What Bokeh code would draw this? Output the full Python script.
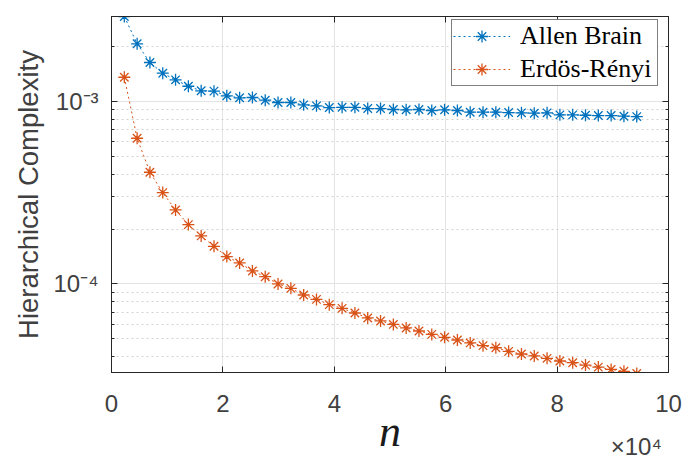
from bokeh.plotting import figure
from bokeh.models import (FixedTicker, LinearAxis, LogAxis, Legend, LegendItem,
                          CustomJSTickFormatter, Range1d)
from bokeh.embed import file_html
from bokeh.resources import INLINE

# ---- data ----
n_values = [2300, 4600, 6900, 9200, 11500, 13800, 16100, 18400, 20700, 23000,
            25300, 27600, 29900, 32200, 34500, 36800, 39100, 41400, 43700, 46000,
            48300, 50600, 52900, 55200, 57500, 59800, 62100, 64400, 66700, 69000,
            71300, 73600, 75900, 78200, 80500, 82800, 85100, 87400, 89700, 92000, 94300]

allen_brain = [2.925e-3, 2.073e-3, 1.637e-3, 1.430e-3, 1.315e-3, 1.213e-3, 1.145e-3, 1.140e-3,
               1.075e-3, 1.048e-3, 1.052e-3, 1.017e-3, 0.988e-3, 0.988e-3, 0.959e-3, 0.947e-3,
               0.927e-3, 0.930e-3, 0.930e-3, 0.915e-3, 0.915e-3, 0.904e-3, 0.901e-3, 0.904e-3,
               0.893e-3, 0.901e-3, 0.893e-3, 0.874e-3, 0.874e-3, 0.874e-3, 0.870e-3, 0.867e-3,
               0.863e-3, 0.867e-3, 0.845e-3, 0.845e-3, 0.841e-3, 0.838e-3, 0.838e-3, 0.831e-3,
               0.827e-3]

erdos_renyi = [1.359e-3, 6.29e-4, 4.095e-4, 3.168e-4, 2.545e-4, 2.115e-4, 1.834e-4, 1.608e-4,
               1.412e-4, 1.304e-4, 1.178e-4, 1.096e-4, 1.000e-4, 0.946e-4, 0.870e-4, 0.823e-4,
               0.770e-4, 0.735e-4, 0.693e-4, 0.651e-4, 0.627e-4, 0.600e-4, 0.574e-4, 0.552e-4,
               0.529e-4, 0.510e-4, 0.493e-4, 0.475e-4, 0.459e-4, 0.447e-4, 0.427e-4, 0.413e-4,
               0.403e-4, 0.391e-4, 0.378e-4, 0.370e-4, 0.359e-4, 0.350e-4, 0.340e-4, 0.332e-4,
               0.323e-4]

series_labels = ["Allen Brain", "Erdös-Rényi"]
series_colors = ["#0072BD", "#D95319"]

x_ticks = [0, 20000, 40000, 60000, 80000, 100000]
y_ticks = [1e-4, 1e-3]
y_minor = [m * 10.0 ** e for e in (-5, -4, -3) for m in range(2, 10)]

x_label = "n"
y_label = "Hierarchical Complexity"
x_multiplier = "×10⁴"
x_multiplier_at = 94200   # where the exponent note sits under the axis

# ---- styling ----
AX = "#262626"
TXT = "#404040"
SANS = "Liberation Sans"

p = figure(width=684, height=460, y_axis_type="log",
           x_range=Range1d(0, 100000), y_range=Range1d(3.27e-5, 2.925e-3),
           output_backend="svg", toolbar_location=None,
           min_border_left=111, min_border_right=16, min_border_top=16, min_border_bottom=88)

p.outline_line_color = AX
p.outline_line_width = 1
p.background_fill_color = "white"
p.border_fill_color = "white"

renderers = []
for yv, col in zip([allen_brain, erdos_renyi], series_colors):
    ln = p.line(n_values, yv, line_color=col, line_width=1, line_dash="2 3")
    sc = p.scatter(n_values, yv, marker="asterisk", size=12, line_color=col, line_width=1.3)
    renderers.append([ln, sc])

xt = FixedTicker(ticks=x_ticks)
yt = FixedTicker(ticks=y_ticks, minor_ticks=y_minor)
xt_lab = FixedTicker(ticks=x_ticks + [x_multiplier_at])

xfmt = CustomJSTickFormatter(args=dict(mt=x_multiplier_at, mtext=x_multiplier), code="""
if (Math.abs(tick - mt) < 1) { return '\\n' + mtext; }
return (tick/1e4).toFixed(0);
""")
yfmt = CustomJSTickFormatter(code="""
const sup = {'-':'\u207b','0':'\u2070','1':'\u00b9','2':'\u00b2','3':'\u00b3','4':'\u2074',
             '5':'\u2075','6':'\u2076','7':'\u2077','8':'\u2078','9':'\u2079'};
const e = Math.round(Math.log10(tick));
return '10' + String(e).split('').map(c => sup[c]).join('');
""")

def style_axis(ax, minor):
    ax.axis_line_color = AX
    ax.major_tick_line_color = AX
    ax.major_tick_in = 6
    ax.major_tick_out = 0
    if minor:
        ax.minor_tick_line_color = AX
        ax.minor_tick_in = 3
        ax.minor_tick_out = 0
    else:
        ax.minor_tick_line_color = None
    ax.major_label_text_font = SANS
    ax.major_label_text_font_size = "24px"
    ax.major_label_text_color = TXT

def hide_labels(ax):
    ax.major_label_text_font_size = "1px"
    ax.major_label_text_color = None
    ax.major_label_standoff = 0

# bottom axis nearest the frame: tick marks only
xa = p.xaxis[0]
xa.ticker = xt
style_axis(xa, False)
hide_labels(xa)

# second bottom axis: tick labels, exponent note and axis label
xl = LinearAxis(ticker=xt_lab, formatter=xfmt)
style_axis(xl, False)
xl.axis_line_color = None
xl.major_tick_line_color = None
xl.major_label_standoff = 17
xl.major_label_text_line_height = 1.6
xl.axis_label = x_label
xl.axis_label_text_font = "Liberation Serif"
xl.axis_label_text_font_style = "italic"
xl.axis_label_text_font_size = "44px"
xl.axis_label_text_color = "#1a1a1a"
xl.axis_label_standoff = -56
p.add_layout(xl, "below")

ya = p.yaxis[0]
ya.ticker = yt
ya.formatter = yfmt
style_axis(ya, True)
ya.major_label_standoff = 13
ya.axis_label = y_label
ya.axis_label_text_font = SANS
ya.axis_label_text_font_style = "normal"
ya.axis_label_text_font_size = "27.5px"
ya.axis_label_text_color = TXT
ya.axis_label_standoff = 6

top = LinearAxis(ticker=xt)
style_axis(top, False)
hide_labels(top)
p.add_layout(top, "above")

right = LogAxis(ticker=yt)
style_axis(right, True)
hide_labels(right)
p.add_layout(right, "right")

p.xgrid.ticker = xt
p.xgrid.grid_line_color = "#e3e3e3"
p.ygrid.ticker = yt
p.ygrid.grid_line_color = "#e3e3e3"
p.ygrid.minor_grid_line_color = "#d2d2d2"
p.ygrid.minor_grid_line_dash = "2 3"

legend = Legend(items=[LegendItem(label=lab, renderers=r) for lab, r in zip(series_labels, renderers)],
                location=(340, 286))
legend.label_text_font = "Liberation Serif"
legend.label_text_font_size = "26px"
legend.label_text_color = "black"
legend.glyph_width = 57
legend.glyph_height = 30
legend.label_height = 30
legend.label_width = 136
legend.label_standoff = 10
legend.spacing = 3
legend.padding = 1
legend.margin = 0
legend.border_line_color = "black"
legend.border_line_width = 1
legend.background_fill_color = "white"
legend.background_fill_alpha = 1
p.add_layout(legend, "center")

open("out.html", "w").write(file_html(p, INLINE))
